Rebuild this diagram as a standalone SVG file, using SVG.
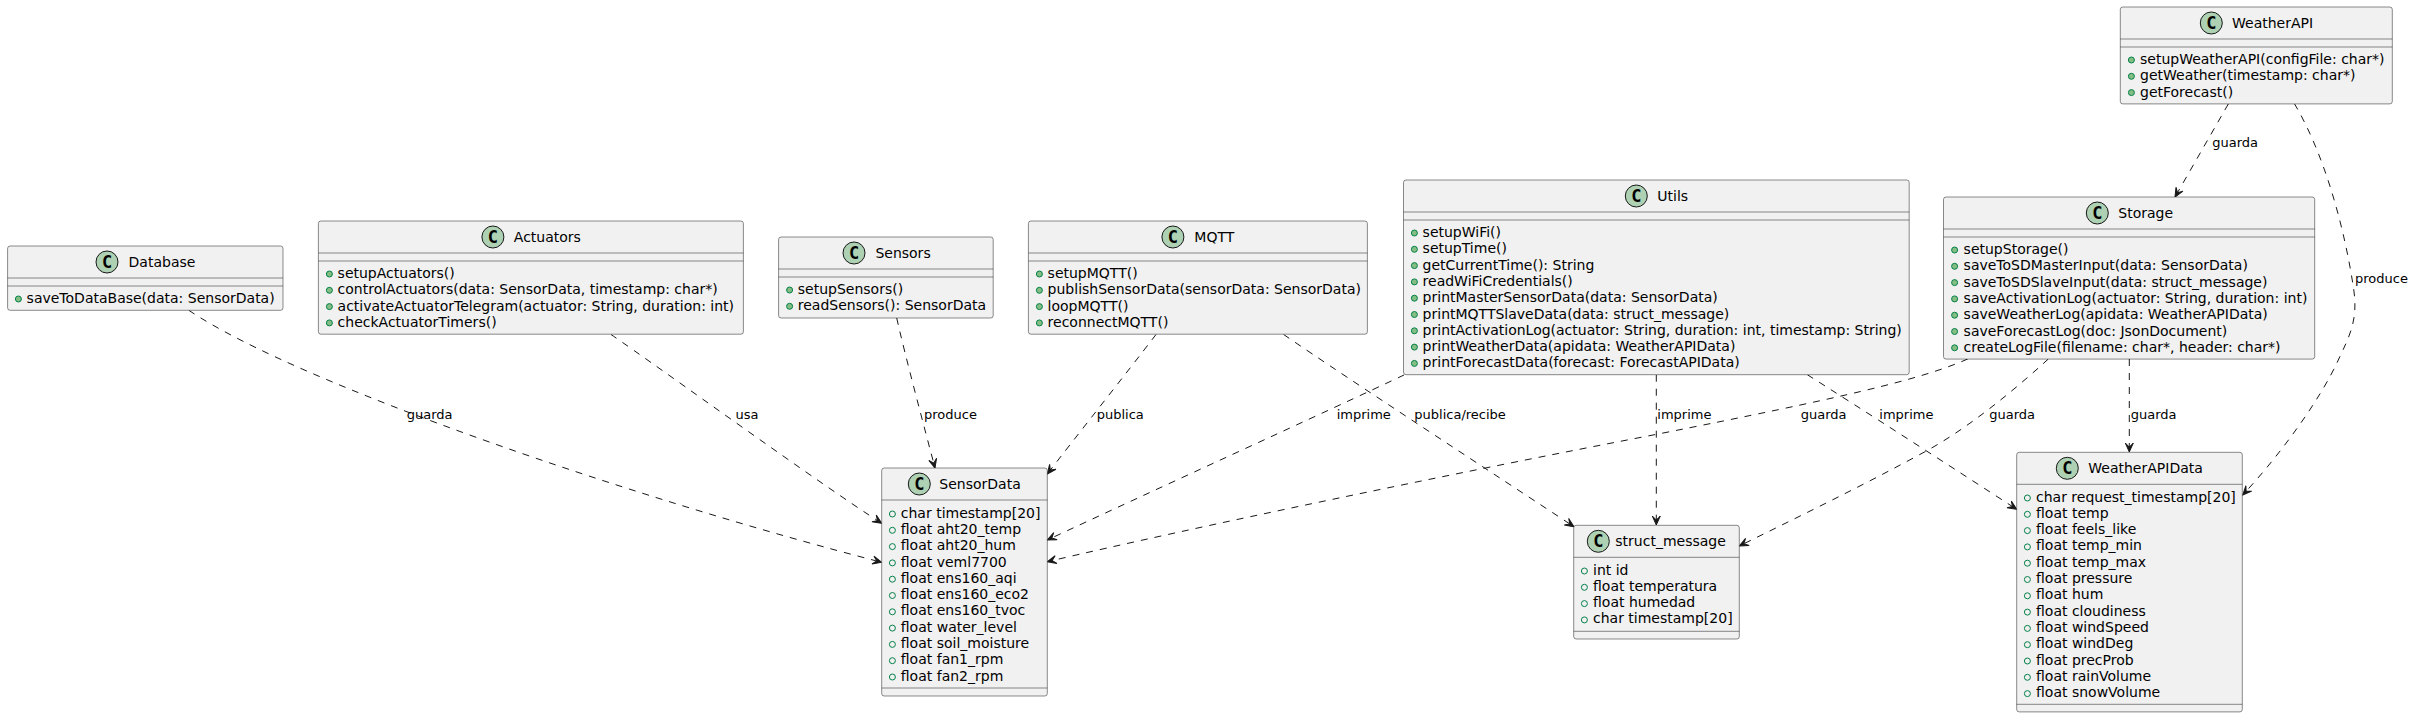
<svg xmlns="http://www.w3.org/2000/svg" width="2414" height="718" viewBox="0 0 2414 718">
<style>
text{font-family:"DejaVu Sans",sans-serif;font-size:14px;fill:#000}
.b{fill:#F1F1F1;stroke:#181818;stroke-width:.5}
.s{stroke:#181818;stroke-width:.5}
.c{fill:#ADD1B2;stroke:#181818;stroke-width:1}
.g{font-family:"DejaVu Sans Mono",monospace;font-weight:bold;font-size:17px;text-anchor:middle}
.m{fill:#84BE84;stroke:#038048;stroke-width:1}
.a{fill:none;stroke:#038048;stroke-width:1}
.e{fill:none;stroke:#181818;stroke-width:1;stroke-dasharray:7,7;marker-end:url(#v)}
.l{font-size:13px}
</style>
<defs>
<marker id="v" markerUnits="userSpaceOnUse" markerWidth="14" markerHeight="12" refX="11" refY="6" orient="auto" overflow="visible"><polygon points="11,6 2,2 6,6 2,10" fill="#181818" stroke="#181818" stroke-width="1" stroke-dasharray="none"/></marker>
</defs>
<g id="connectors">
<path class="e" d="M188.8,310.3C300,385 640,500 881.7,562.3"/>
<path class="e" d="M611,334.5C660,368 820,484 881.7,523.3"/>
<path class="e" d="M896.7,318C905,355 925,430 935,468"/>
<path class="e" d="M1156,334.5C1125,375 1075,438 1047.3,474"/>
<path class="e" d="M1283.6,334.5C1350,380 1500,478 1574,526.7"/>
<path class="e" d="M1404,375C1330,410 1150,492 1047.3,540"/>
<path class="e" d="M1967.7,359C1920,380 1840,398 1656.7,434.3C1450,474 1200,526 1047.3,561.7"/>
<path class="e" d="M1656.3,374.7L1656.3,525"/>
<path class="e" d="M1807.3,374.7C1860,408 1950,466 2016.7,509.3"/>
<path class="e" d="M2048.3,359C2010,394 1965,430 1925,451.7C1860,487 1800,516 1739.3,546"/>
<path class="e" d="M2129.3,359L2129.3,452"/>
<path class="e" d="M2294.3,103.5C2325,155 2345,230 2353.8,290C2358,320 2350,335 2338.3,360C2320,400 2280,455 2242.7,495"/>
<path class="e" d="M2228.3,104L2175,197"/>
<text class="l" x="406.8" y="419">guarda</text>
<text class="l" x="735.4" y="419">usa</text>
<text class="l" x="924" y="419">produce</text>
<text class="l" x="1096.7" y="419">publica</text>
<text class="l" x="1336.7" y="419">imprime</text>
<text class="l" x="1414.3" y="419">publica/recibe</text>
<text class="l" x="1657.3" y="419">imprime</text>
<text class="l" x="1800.7" y="419">guarda</text>
<text class="l" x="1879.3" y="419">imprime</text>
<text class="l" x="1989.3" y="419">guarda</text>
<text class="l" x="2130.7" y="419">guarda</text>
<text class="l" x="2212.3" y="147">guarda</text>
<text class="l" x="2355" y="282.7">produce</text>
</g>
<g id="Database">
<rect class="b" x="7.6" y="246" width="275.4" height="64.3" rx="2.5"/>
<path class="s" d="M7.6,278H283M7.6,286H283"/>
<circle class="c" cx="107" cy="262" r="11"/><text class="g" x="107" y="268">C</text><text x="128.6" y="267">Database</text>
<circle class="m" cx="18.4" cy="299" r="3"/><text x="26.6" y="303">saveToDataBase(data: SensorData)</text>
</g>
<g id="Actuators">
<rect class="b" x="318.4" y="221" width="425" height="113.2" rx="2.5"/>
<path class="s" d="M318.4,253H743.4M318.4,261H743.4"/>
<circle class="c" cx="492.9" cy="237" r="11"/><text class="g" x="492.9" y="243">C</text><text x="513.8" y="242">Actuators</text>
<circle class="m" cx="329.4" cy="274" r="3"/><text x="337.6" y="278">setupActuators()</text>
<circle class="m" cx="329.4" cy="290.3" r="3"/><text x="337.6" y="294.3">controlActuators(data: SensorData, timestamp: char*)</text>
<circle class="m" cx="329.4" cy="306.6" r="3"/><text x="337.6" y="310.6">activateActuatorTelegram(actuator: String, duration: int)</text>
<circle class="m" cx="329.4" cy="322.9" r="3"/><text x="337.6" y="326.9">checkActuatorTimers()</text>
</g>
<g id="Sensors">
<rect class="b" x="778.6" y="237" width="214.6" height="81" rx="2.5"/>
<path class="s" d="M778.6,269H993.2M778.6,277H993.2"/>
<circle class="c" cx="854" cy="253" r="11"/><text class="g" x="854" y="259">C</text><text x="875.4" y="258">Sensors</text>
<circle class="m" cx="789.6" cy="290" r="3"/><text x="797.8" y="294">setupSensors()</text>
<circle class="m" cx="789.6" cy="306.3" r="3"/><text x="797.8" y="310.3">readSensors(): SensorData</text>
</g>
<g id="MQTT">
<rect class="b" x="1028.4" y="221" width="339" height="113.2" rx="2.5"/>
<path class="s" d="M1028.4,253H1367.4M1028.4,261H1367.4"/>
<circle class="c" cx="1172.9" cy="237" r="11"/><text class="g" x="1172.9" y="243">C</text><text x="1194.3" y="242">MQTT</text>
<circle class="m" cx="1039.4" cy="274" r="3"/><text x="1047.6" y="278">setupMQTT()</text>
<circle class="m" cx="1039.4" cy="290.3" r="3"/><text x="1047.6" y="294.3">publishSensorData(sensorData: SensorData)</text>
<circle class="m" cx="1039.4" cy="306.6" r="3"/><text x="1047.6" y="310.6">loopMQTT()</text>
<circle class="m" cx="1039.4" cy="322.9" r="3"/><text x="1047.6" y="326.9">reconnectMQTT()</text>
</g>
<g id="Utils">
<rect class="b" x="1403.5" y="180" width="505.7" height="194.7" rx="2.5"/>
<path class="s" d="M1403.5,212H1909.2M1403.5,220H1909.2"/>
<circle class="c" cx="1636.3" cy="196" r="11"/><text class="g" x="1636.3" y="202">C</text><text x="1657.3" y="201">Utils</text>
<circle class="m" cx="1414.4" cy="233" r="3"/><text x="1422.6" y="237">setupWiFi()</text>
<circle class="m" cx="1414.4" cy="249.3" r="3"/><text x="1422.6" y="253.3">setupTime()</text>
<circle class="m" cx="1414.4" cy="265.6" r="3"/><text x="1422.6" y="269.6">getCurrentTime(): String</text>
<circle class="m" cx="1414.4" cy="281.9" r="3"/><text x="1422.6" y="285.9">readWiFiCredentials()</text>
<circle class="m" cx="1414.4" cy="298.2" r="3"/><text x="1422.6" y="302.2">printMasterSensorData(data: SensorData)</text>
<circle class="m" cx="1414.4" cy="314.5" r="3"/><text x="1422.6" y="318.5">printMQTTSlaveData(data: struct_message)</text>
<circle class="m" cx="1414.4" cy="330.8" r="3"/><text x="1422.6" y="334.8">printActivationLog(actuator: String, duration: int, timestamp: String)</text>
<circle class="m" cx="1414.4" cy="347.1" r="3"/><text x="1422.6" y="351.1">printWeatherData(apidata: WeatherAPIData)</text>
<circle class="m" cx="1414.4" cy="363.4" r="3"/><text x="1422.6" y="367.4">printForecastData(forecast: ForecastAPIData)</text>
</g>
<g id="Storage">
<rect class="b" x="1943.5" y="197" width="371.2" height="162.1" rx="2.5"/>
<path class="s" d="M1943.5,229H2314.7M1943.5,237H2314.7"/>
<circle class="c" cx="2097.3" cy="213" r="11"/><text class="g" x="2097.3" y="219">C</text><text x="2118.3" y="218">Storage</text>
<circle class="m" cx="1954.6" cy="250" r="3"/><text x="1963.6" y="254">setupStorage()</text>
<circle class="m" cx="1954.6" cy="266.3" r="3"/><text x="1963.6" y="270.3">saveToSDMasterInput(data: SensorData)</text>
<circle class="m" cx="1954.6" cy="282.6" r="3"/><text x="1963.6" y="286.6">saveToSDSlaveInput(data: struct_message)</text>
<circle class="m" cx="1954.6" cy="298.9" r="3"/><text x="1963.6" y="302.9">saveActivationLog(actuator: String, duration: int)</text>
<circle class="m" cx="1954.6" cy="315.2" r="3"/><text x="1963.6" y="319.2">saveWeatherLog(apidata: WeatherAPIData)</text>
<circle class="m" cx="1954.6" cy="331.5" r="3"/><text x="1963.6" y="335.5">saveForecastLog(doc: JsonDocument)</text>
<circle class="m" cx="1954.6" cy="347.8" r="3"/><text x="1963.6" y="351.8">createLogFile(filename: char*, header: char*)</text>
</g>
<g id="WeatherAPI">
<rect class="b" x="2120.3" y="7" width="272" height="96.9" rx="2.5"/>
<path class="s" d="M2120.3,39H2392.3M2120.3,47H2392.3"/>
<circle class="c" cx="2211.3" cy="23" r="11"/><text class="g" x="2211.3" y="29">C</text><text x="2232" y="28">WeatherAPI</text>
<circle class="m" cx="2131.4" cy="60" r="3"/><text x="2140" y="64">setupWeatherAPI(configFile: char*)</text>
<circle class="m" cx="2131.4" cy="76.3" r="3"/><text x="2140" y="80.3">getWeather(timestamp: char*)</text>
<circle class="m" cx="2131.4" cy="92.6" r="3"/><text x="2140" y="96.6">getForecast()</text>
</g>
<g id="SensorData">
<rect class="b" x="881.7" y="468" width="165.6" height="228" rx="2.5"/>
<path class="s" d="M881.7,500H1047.3M881.7,688H1047.3"/>
<circle class="c" cx="919.3" cy="484" r="11"/><text class="g" x="919.3" y="490">C</text><text x="939.3" y="489">SensorData</text>
<circle class="a" cx="892.4" cy="514" r="3"/><text x="900.8" y="517.6">char timestamp[20]</text>
<circle class="a" cx="892.4" cy="530.3" r="3"/><text x="900.8" y="533.9">float aht20_temp</text>
<circle class="a" cx="892.4" cy="546.6" r="3"/><text x="900.8" y="550.2">float aht20_hum</text>
<circle class="a" cx="892.4" cy="562.9" r="3"/><text x="900.8" y="566.5">float veml7700</text>
<circle class="a" cx="892.4" cy="579.2" r="3"/><text x="900.8" y="582.8">float ens160_aqi</text>
<circle class="a" cx="892.4" cy="595.5" r="3"/><text x="900.8" y="599.1">float ens160_eco2</text>
<circle class="a" cx="892.4" cy="611.8" r="3"/><text x="900.8" y="615.4">float ens160_tvoc</text>
<circle class="a" cx="892.4" cy="628.1" r="3"/><text x="900.8" y="631.7">float water_level</text>
<circle class="a" cx="892.4" cy="644.4" r="3"/><text x="900.8" y="648">float soil_moisture</text>
<circle class="a" cx="892.4" cy="660.7" r="3"/><text x="900.8" y="664.3">float fan1_rpm</text>
<circle class="a" cx="892.4" cy="677" r="3"/><text x="900.8" y="680.6">float fan2_rpm</text>
</g>
<g id="struct_message">
<rect class="b" x="1573.7" y="525.3" width="165.6" height="113.7" rx="2.5"/>
<path class="s" d="M1573.7,557.3H1739.3M1573.7,631.3H1739.3"/>
<circle class="c" cx="1598.3" cy="541.3" r="11"/><text class="g" x="1598.3" y="547.3">C</text><text x="1615.3" y="546.3">struct_message</text>
<circle class="a" cx="1584.4" cy="571" r="3"/><text x="1593" y="574.5">int id</text>
<circle class="a" cx="1584.4" cy="587.3" r="3"/><text x="1593" y="590.8">float temperatura</text>
<circle class="a" cx="1584.4" cy="603.6" r="3"/><text x="1593" y="607.1">float humedad</text>
<circle class="a" cx="1584.4" cy="619.9" r="3"/><text x="1593" y="623.4">char timestamp[20]</text>
</g>
<g id="WeatherAPIData">
<rect class="b" x="2016.7" y="452.3" width="225.6" height="259.6" rx="2.5"/>
<path class="s" d="M2016.7,484.3H2242.3M2016.7,704.3H2242.3"/>
<circle class="c" cx="2067.3" cy="468.3" r="11"/><text class="g" x="2067.3" y="474.3">C</text><text x="2088.3" y="473.3">WeatherAPIData</text>
<circle class="a" cx="2027.4" cy="498" r="3"/><text x="2036" y="501.5">char request_timestamp[20]</text>
<circle class="a" cx="2027.4" cy="514.3" r="3"/><text x="2036" y="517.8">float temp</text>
<circle class="a" cx="2027.4" cy="530.6" r="3"/><text x="2036" y="534.1">float feels_like</text>
<circle class="a" cx="2027.4" cy="546.9" r="3"/><text x="2036" y="550.4">float temp_min</text>
<circle class="a" cx="2027.4" cy="563.2" r="3"/><text x="2036" y="566.7">float temp_max</text>
<circle class="a" cx="2027.4" cy="579.5" r="3"/><text x="2036" y="583">float pressure</text>
<circle class="a" cx="2027.4" cy="595.8" r="3"/><text x="2036" y="599.3">float hum</text>
<circle class="a" cx="2027.4" cy="612.1" r="3"/><text x="2036" y="615.6">float cloudiness</text>
<circle class="a" cx="2027.4" cy="628.4" r="3"/><text x="2036" y="631.9">float windSpeed</text>
<circle class="a" cx="2027.4" cy="644.7" r="3"/><text x="2036" y="648.2">float windDeg</text>
<circle class="a" cx="2027.4" cy="661" r="3"/><text x="2036" y="664.5">float precProb</text>
<circle class="a" cx="2027.4" cy="677.3" r="3"/><text x="2036" y="680.8">float rainVolume</text>
<circle class="a" cx="2027.4" cy="693.6" r="3"/><text x="2036" y="697.1">float snowVolume</text>
</g>
</svg>
